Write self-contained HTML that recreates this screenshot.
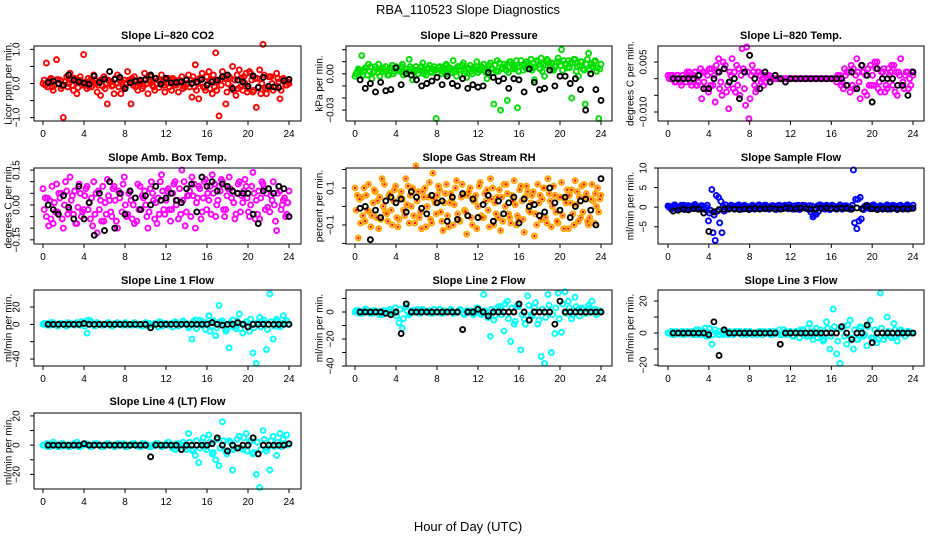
<!DOCTYPE html>
<html><head><meta charset="utf-8"><style>
html,body{margin:0;padding:0;background:#fff;}
svg{display:block;font-family:"Liberation Sans",Arial,sans-serif;}
</style></head><body>
<svg id="chart" width="936" height="540" viewBox="0 0 936 540" xmlns="http://www.w3.org/2000/svg">
<text x="468" y="14" text-anchor="middle" font-size="13">RBA_110523  Slope Diagnostics</text>
<text x="468" y="531" text-anchor="middle" font-size="13">Hour of Day (UTC)</text>
</svg>
<script>
const xTicks=[0,4,8,12,16,20,24];
// CO2
const co2A=[0.0,0.6,0.1,-0.2,0.7,0.1,-1.0,0.2,0.3,-0.2,-0.3,0.2,0.85,-0.15,0.1,0.25,-0.25,-0.35,0.2,-0.6,0.05,-0.3,0.25,-0.3,0.1,0.35,-0.6,0.2,-0.2,0.05,0.3,-0.3,0.2,-0.2,0.1,0.25,-0.25,0.15,-0.2,0.1,-0.25,0.2,-0.1,0.25,-0.4,0.55,-0.45,0.3,-0.2,0.35,-0.3,0.9,-0.95,0.35,-0.6,0.2,0.5,-0.35,0.4,-0.2,0.3,0.35,-0.25,-0.7,0.4,1.15,-0.3,0.2,-0.2,0.3,-0.45,0.15,-0.05];
const co2B=[0.1,-0.1,0.15,-0.05,0.12,-0.15,0.05,-0.1,0.1,0.15,-0.12,0.05,-0.05,0.15,-0.1,0.1,-0.05,0.12,-0.15,0.1,-0.08,0.15,-0.1,0.05,-0.12,0.1,0.15,-0.1,0.05,-0.15,0.1,0.12,-0.05,0.15,-0.12,0.05,0.1,-0.1,0.15,-0.05,0.1,-0.15,0.12,-0.1,0.2,-0.2,0.15,-0.1,0.2,-0.15,0.25,-0.2,0.1,0.2,-0.25,0.15,-0.2,0.25,-0.1,0.2,-0.25,0.3,-0.2,0.15,-0.3,0.25,-0.15,0.2,-0.1,0.15,-0.2,0.1,0.05];
const co2C=[-0.05,0.05,-0.1,0.1,0,-0.08,0.08,0,-0.05,0.05,0.1,-0.05,0,-0.1,0.05,0,0.08,-0.08,0,0.05,-0.05,0,0.1,-0.1,0,0.05,-0.05,0.08,0,-0.08,0,0.05,-0.1,0,0.08,-0.05,0,0.1,-0.05,0,0.05,-0.08,0,0.1,-0.1,0,0.12,-0.12,0,0.1,-0.1,0.05,-0.05,0.15,0,-0.1,0.1,-0.15,0.15,0,-0.15,0.1,0.15,-0.1,0,-0.15,0.2,0,-0.1,0.05,0.1,-0.05,0];
const co2K=[0.03,0.07,0,-0.05,0.25,0.1,0.05,0.02,-0.02,0.22,0.03,0.13,0.35,0.12,0.18,-0.15,0.02,0.07,0.1,0.12,0.25,0.15,-0.02,0.15,0.02,0.03,0.05,0.1,0,0.05,0.12,-0.05,0.05,0.1,0.2,0.25,-0.15,0.1,0.05,-0.08,0.22,-0.12,0.18,-0.08,-0.1,-0.12,0.08,0.12];
// Pressure
const prA=[-0.002,0.004,0.015,0.005,0.008,-0.004,0.006,0.008,0.002,0.006,-0.001,0.007,0.006,0.003,0.008,0.004,0.012,-0.005,0.006,0.003,0.009,-0.001,0.007,0.004,-0.037,0.006,0.002,0.008,0.005,0.011,-0.002,0.006,0.009,-0.003,0.007,0.005,0.01,0.003,0.008,-0.004,0.009,-0.025,0.011,-0.03,0.008,-0.022,0.01,0.006,-0.028,0.011,0.008,0.004,0.012,-0.005,0.01,0.013,-0.002,0.011,0.009,0.006,0.013,0.02,0.008,0.011,-0.02,0.012,-0.002,0.01,-0.025,0.017,0.006,0.011,-0.037];
const prB=[0,0.003,-0.001,0.005,0.002,0.001,0.004,-0.002,0.005,0.002,0.003,0,0.005,0.002,-0.001,0.004,0.006,0.001,0.003,0.005,0,0.004,0.002,0.006,0.001,0.003,0.005,0,0.004,0.002,0.006,0.003,0,0.005,0.002,0.004,0.001,0.006,0.003,0,0.005,0.007,0.002,0.004,0.006,0.001,0.008,0.004,0.002,0.007,0.005,0.009,0.003,0.006,0.008,0.002,0.007,0.009,0.004,0.006,0.01,0.003,0.008,0.005,0.009,0.002,0.007,0.004,0.008,0.003,0.006,0.002,0.004];
const prC=[0.002,0.001,0.003,-0.001,0.006,0.002,0.001,0.004,0.003,-0.001,0.005,0.002,0.003,0.006,0.001,0.002,0.004,0.003,0,0.006,0.002,0.005,0.001,0.003,0.005,0,0.007,0.003,0.001,0.004,0.003,0.007,0.002,0.004,0,0.006,0.003,0.005,0.001,0.007,0.004,0.002,0.009,0.005,0.003,0.01,0.004,0.011,0.006,0.003,0.01,0.007,0.005,0.011,0.004,0.008,0.012,0.006,0.003,0.01,0.007,0.011,0.005,0.009,0.012,0.006,0.01,0.003,0.012,0.008,0.01,0.005,0.008];
const prK=[-0.005,-0.012,-0.008,-0.015,-0.007,-0.014,-0.013,0.005,-0.009,0,-0.001,-0.005,-0.01,-0.008,-0.006,-0.003,-0.009,-0.002,-0.008,-0.01,-0.004,-0.012,-0.009,-0.011,-0.01,0.001,-0.003,-0.006,-0.004,-0.012,-0.004,-0.005,-0.015,0.004,-0.007,-0.013,-0.012,0.003,-0.01,-0.002,-0.002,-0.008,-0.004,-0.013,-0.03,0.0,-0.013,-0.022];
// Li-820 Temp
const ltA=[0.001,0,-0.001,0.001,-0.002,0,0.001,-0.002,0.002,-0.001,-0.006,0.002,-0.004,0.003,-0.007,0.006,-0.005,0.004,-0.009,0.006,-0.004,0.003,0.009,-0.008,-0.012,0.004,-0.004,0.002,0,-0.001,0.001,0,0,0,0,0,0,0,0,0,0,0,0,0,0,0,0,0,0,0,-0.001,0.001,-0.003,0.002,-0.004,0.003,0.006,-0.006,0.002,-0.005,0.004,-0.002,0.005,-0.004,0.003,-0.003,0.002,0.004,-0.005,0.006,-0.003,0.002,-0.002];
const ltB=[0,0.001,-0.001,0,0.001,-0.001,0.002,0,-0.002,0.001,0.002,-0.003,0.003,-0.002,0.004,-0.003,0.005,-0.004,0.002,-0.003,0.004,-0.005,0.003,0.0095,-0.006,0.002,-0.003,0.001,-0.002,0.001,0,0,0,0,0,0,0,0,0,0,0,0,0,0,0,0,0,0,0,0,0.001,-0.002,0.003,-0.002,0.004,-0.003,0.002,0.004,-0.004,0.003,-0.002,0.005,-0.003,0.002,-0.004,0.003,0.004,-0.004,0.002,-0.002,0.001,-0.003,0.002];
const ltC=[0.001,0,0.001,-0.001,0,0.002,-0.001,0.001,-0.002,0.003,-0.001,0.001,-0.002,0.001,0.002,-0.001,0.003,-0.002,0.001,0.002,-0.002,0.001,-0.003,0.002,0.001,-0.002,0.002,-0.001,0.001,0,0,0,0,0,0,0,0,0,0,0,0,0,0,0,0,0,0,0,0,0,0,-0.001,0.001,0.002,-0.002,0.001,-0.001,0.002,0.001,-0.002,0.001,0.003,-0.001,0.002,-0.002,0.001,-0.002,0.002,0.001,-0.001,0.002,0,0.001];
const ltK=[0,0,0,0,0,0.001,-0.003,-0.003,0,0.002,0.003,-0.001,0,-0.006,0.002,0.007,0,-0.003,0.002,-0.001,0.001,0,-0.001,0,0,0,0,0,0,0,0,0,0,0,-0.002,0.002,-0.003,0.004,0.001,-0.007,0.003,0,0,0,-0.002,-0.002,-0.005,0.002];
// Amb box temp
const abA=[0.07,-0.05,0.02,-0.08,0.09,0.03,-0.1,0.06,0.12,-0.04,-0.08,0.05,-0.02,0.08,-0.06,0.1,-0.12,0.02,-0.07,0.11,-0.03,0.08,-0.1,0.05,0.12,-0.04,0.02,-0.08,0.09,-0.02,0.06,-0.1,0.1,-0.06,0.03,0.13,-0.04,0.07,-0.02,0.1,-0.06,0.15,-0.09,0.04,0.12,-0.1,0.08,-0.03,0.11,0.02,0.13,-0.05,0.08,0.1,-0.02,0.12,0.06,-0.04,0.1,0.01,0.08,-0.05,0.14,0.02,-0.06,0.09,0.05,-0.03,0.1,-0.11,0.06,0.02,-0.04];
const abB=[-0.02,0.03,-0.06,0.01,-0.03,0.05,0.0,-0.04,0.02,0.06,-0.01,-0.05,0.04,-0.02,0.03,-0.04,0.06,-0.07,0.01,0.04,-0.05,0.02,0.06,-0.03,0.0,0.05,-0.06,0.03,-0.02,0.04,0.0,-0.03,0.05,0.01,-0.04,0.06,0.02,-0.02,0.05,0.0,0.07,0.02,-0.03,0.06,0.04,0.01,0.07,0.03,-0.02,0.08,0.05,0.0,0.06,-0.02,0.04,0.07,0.01,0.05,-0.03,0.06,0.03,0.0,0.05,-0.04,0.03,0.07,-0.01,0.04,0.0,0.05,-0.02,0.03,0.01];
const abC=[0.03,-0.09,0.08,-0.03,0.05,-0.06,0.1,-0.02,0.04,-0.08,0.09,-0.03,0.07,0.01,-0.09,0.05,-0.02,0.08,-0.04,0.02,0.07,-0.07,0.03,0.09,-0.05,0.06,0.0,-0.07,0.08,0.03,-0.05,0.07,0.02,-0.08,0.1,-0.02,0.06,-0.07,0.09,0.02,-0.04,0.1,0.04,-0.05,0.09,0.03,-0.06,0.1,0.05,-0.04,0.09,0.02,0.11,-0.05,0.07,0.03,-0.06,0.09,0.04,0.11,-0.03,0.08,-0.06,0.06,0.1,-0.02,0.07,0.02,-0.07,0.08,0.0,-0.05,0.06];
const abK=[0,-0.02,-0.04,0.04,-0.01,-0.06,0.08,-0.06,0.01,-0.13,0.05,-0.11,0.1,-0.1,0.05,-0.04,0.06,0.03,-0.02,0.04,0,0.08,0.02,0.03,0.05,0.02,0.01,0.07,0.09,-0.03,0.12,0.08,0.1,0.06,0.09,0.08,0.06,0.05,0.05,0.05,-0.04,-0.08,0.06,0.07,0.05,0.08,0.07,-0.05];
// Gas stream RH
const rhA=[0.1,-0.17,0.05,-0.08,0.12,-0.05,0.08,-0.12,0.15,-0.03,0.06,-0.1,0.11,-0.07,0.04,0.15,-0.09,0.1,0.22,-0.06,0.08,-0.11,0.13,0.18,-0.04,0.09,-0.13,0.12,0.02,-0.1,0.14,-0.08,0.06,-0.15,0.1,0.03,-0.12,0.13,-0.06,0.09,0.15,-0.1,0.05,-0.13,0.12,0.07,-0.09,0.14,-0.05,0.11,-0.14,0.08,0.02,-0.16,0.12,-0.07,0.1,0.15,-0.11,0.06,-0.09,0.13,0.04,-0.12,0.09,0.14,-0.08,0.11,0.05,-0.1,0.12,0.07,-0.03];
const rhB=[-0.02,0.04,-0.05,0.06,-0.03,0.02,-0.06,0.05,0.0,-0.04,0.07,0.03,-0.06,0.05,-0.02,0.01,0.06,-0.05,0.03,-0.03,0.05,0.0,-0.07,0.04,0.06,-0.03,0.02,-0.05,0.07,0.01,-0.04,0.05,-0.02,0.06,-0.06,0.03,0.0,-0.05,0.07,-0.02,0.04,0.02,-0.06,0.05,0.0,-0.04,0.06,0.01,-0.07,0.03,0.05,-0.02,0.06,-0.04,0.02,0.04,-0.06,0.07,0.0,-0.03,0.05,-0.05,0.02,0.06,-0.04,0.01,0.05,-0.03,0.07,-0.06,0.03,0.0,0.04];
const rhC=[0.06,-0.09,0.1,-0.02,-0.11,0.09,0.03,-0.07,0.12,-0.08,-0.02,0.09,-0.11,0.08,-0.05,0.11,0.0,-0.09,0.08,-0.12,0.1,0.05,-0.09,0.02,0.11,-0.08,0.07,-0.11,0.04,0.1,-0.07,0.12,-0.03,0.08,-0.1,0.06,0.11,-0.06,0.03,-0.11,0.1,-0.04,0.09,-0.08,0.12,-0.06,0.03,-0.1,0.09,-0.07,0.11,-0.03,0.08,-0.1,0.06,0.1,-0.09,0.03,0.11,-0.08,0.05,-0.12,0.09,0.02,-0.1,0.08,-0.06,0.12,-0.08,0.04,-0.09,0.1,0.06];
const rhK=[-0.01,0.0,-0.18,-0.02,-0.06,0.03,0.05,0.02,0.04,-0.03,0.08,0.05,-0.01,-0.04,0.06,0.02,0.03,-0.08,0.05,-0.07,0.07,-0.05,0.04,-0.06,0.01,0.06,-0.08,0.03,-0.04,0.02,0.05,-0.09,0.04,0,0.01,-0.05,-0.03,0.1,0.02,-0.02,0.05,-0.06,0,0.03,0.04,-0.02,-0.1,0.15];
// Sample flow
const sfA=[0.3,-0.5,0.6,-0.4,0.5,-0.6,0.4,-0.3,0.7,-0.5,0.4,-0.6,-3.5,4.5,-8.5,2.5,-6.5,0.6,-0.5,0.4,-0.4,0.6,-0.5,0.3,-0.6,0.5,-0.4,0.6,-0.3,0.5,-0.5,0.4,-0.6,0.5,-0.4,0.3,0.6,-0.5,0.4,-0.6,0.5,-0.3,0.4,-2.5,-1.8,0.6,-0.4,0.5,-0.6,0.4,-0.5,0.6,-0.4,0.3,-0.5,9.5,-5.5,2.5,-0.6,0.5,-0.4,0.6,-0.5,0.4,-0.3,0.6,-0.5,0.4,-0.6,0.5,-0.4,0.6,-0.3];
const sfB=[0,0.2,-0.2,0.1,-0.1,0.3,-0.3,0.2,0,-0.2,0.3,-0.1,-1.5,-6.5,3,-4,0.2,-0.2,0.1,-0.3,0.3,0,-0.2,0.2,-0.1,0.3,0,-0.3,0.2,0.1,-0.2,0.3,0,-0.1,0.2,-0.3,0.1,0.3,-0.2,0,0.2,-0.3,-1.2,-2,0.3,-0.1,0.2,0,-0.3,0.2,0.1,-0.2,0.3,0,-0.2,-4,2,-3,0.2,-0.1,0.3,-0.2,0,0.2,-0.3,0.1,0.2,-0.1,0.3,-0.2,0,0.2,-0.1];
const sfC=[-0.2,0.4,-0.5,0.2,0.5,-0.3,0.1,0.5,-0.4,0.3,-0.3,0.5,-0.8,-2,-1,1.5,-1,-0.4,0.5,-0.2,0.4,-0.3,0.5,-0.4,0.2,-0.5,0.4,-0.2,0.5,-0.4,0.3,-0.5,0.4,-0.2,0.5,-0.4,0.2,-0.5,0.5,-0.3,0.4,-0.5,0.3,-1.5,-1,0.4,-0.5,0.3,0.5,-0.4,0.2,-0.5,0.4,-0.3,0.5,2,-3.5,-0.5,0.4,-0.3,0.5,-0.4,0.2,-0.5,0.4,-0.2,0.5,-0.4,0.3,-0.5,0.4,-0.3,0.5];
const sfK=[-1,-0.8,-0.5,-0.7,-0.4,-0.5,-1.5,-6.2,-1.2,-0.6,-0.5,-0.4,-0.5,-0.6,-0.4,-0.5,-0.3,-0.5,-0.4,-0.3,-0.4,-0.5,-0.2,-0.3,-0.4,-0.2,-0.3,-0.5,-0.4,-0.3,-0.2,-0.3,-0.4,-0.2,-0.3,-0.5,-0.2,-0.4,0.3,-0.4,-0.6,-0.4,-0.5,-0.3,-0.5,-0.4,-0.5,-0.3];
// Line 1
const l1A=[0,1,-1,2,-1,1,0,-2,1,0,2,-1,3,-10,4,-1,2,0,-1,1,0,-1,2,0,1,-1,0,2,-1,0,1,-2,0,1,-3,2,0,-1,1,3,-2,0,2,-4,-17,5,-1,3,-6,10,-2,-13,22,4,-8,-27,5,-5,12,-10,3,-8,-33,-45,8,2,-29,35,-17,6,-3,10,4];
const l1B=[1,-1,2,0,-2,1,-1,2,0,-1,1,3,-2,5,2,-2,1,-1,0,2,-2,1,0,-1,2,0,-1,1,0,-2,2,1,-1,0,3,-2,1,0,-3,2,-1,4,0,-2,3,-5,5,-1,2,-8,4,-4,3,1,-6,2,-3,4,-5,1,-2,6,-4,2,-3,5,-6,3,-2,4,-1,2,0];
const l1K=[0,0,0,0,0,0,0,1,0,0,0,0,0,0,0,0,0,0,0,0,-4,0,0,0,0,0,0,0,0,0,0,0,2,0,-1,0,0,2,0,-3,0,0,0,0,0,0,0,0];
// Line 2
const l2A=[0,1,-1,2,0,-1,1,0,-2,1,0,-1,3,-8,-12,4,-2,1,0,-1,2,0,1,-1,0,2,-1,0,1,-1,0,2,-1,1,0,-2,3,-1,13,-2,-18,-6,0,4,-14,8,-22,-9,5,-28,-5,12,-2,3,-9,-33,-38,13,-30,-16,14,-15,15,8,-5,11,2,3,-1,5,8,2,0];
const l2B=[1,-1,0,2,-1,1,0,-2,1,-1,2,0,-3,2,-5,1,-1,0,2,-1,1,0,-1,2,0,-1,1,0,2,-1,0,1,-2,0,1,-1,3,-2,1,-4,2,-3,4,-2,6,-5,3,-7,4,-2,-9,5,-3,7,-6,2,-4,5,-2,3,-5,6,-1,3,-2,4,-3,2,-1,3,0,-2,1];
const l2K=[0,0,0,0,0,-1,-2,0,-16,6,0,0,0,0,0,0,0,0,0,0,-13,0,0,2,0,-3,0,0,0,0,0,6,0,-6,0,0,0,0,-9,8,0,0,0,0,0,0,0,0];
// Line 3
const l3A=[0,1,-1,0,1,-1,0,1,-1,2,-1,3,-2,-7,2,-1,0,1,-1,0,1,0,-1,1,0,-1,0,1,-1,0,1,-1,0,2,-1,1,0,-2,1,-3,2,-2,6,-4,3,-1,-5,7,-10,15,-13,-19,4,-7,8,-10,-4,4,-2,-8,8,-3,-6,25,-4,10,-2,6,-5,2,0,1,0];
const l3B=[0,-1,1,0,-1,1,0,-1,2,-1,1,-2,3,-1,0,1,-1,0,1,-1,0,1,0,-1,1,0,-1,0,1,0,-1,1,0,-1,2,-1,1,-2,0,2,-1,3,-2,1,-3,2,-4,3,-2,4,-5,3,-2,5,-3,2,-4,3,-1,4,-3,2,-4,3,-2,1,-3,2,-1,1,-2,1,0];
const l3K=[0,0,0,0,0,0,0,-1,7,-14,2,0,0,0,0,0,0,0,0,0,0,-7,0,0,0,0,0,0,0,0,0,0,0,4,0,-4,0,0,5,-6,0,0,0,0,0,0,0,0];
// Line 4
const l4A=[0,1,-1,2,0,-1,1,0,-1,1,2,-1,0,1,-1,0,1,0,-1,1,0,-1,1,0,1,-1,0,1,0,-1,1,0,-1,0,1,-1,0,2,-1,-3,1,0,-1,8,-3,-7,-12,2,-1,7,-6,-10,-14,16,-4,3,-17,-2,6,-3,8,2,-6,-20,-29,10,-4,-17,6,-7,8,4,7];
const l4B=[0,-1,1,0,-1,1,0,-1,0,1,-1,0,1,0,-1,1,0,-1,0,1,0,-1,1,0,-1,0,1,0,-1,1,0,-1,0,1,0,-1,1,0,-2,1,-1,2,-3,2,-4,3,-2,5,-3,2,-5,4,-2,3,-6,2,-3,4,-2,5,-4,3,-5,2,-3,4,-2,3,-1,2,-1,1,0];
const l4K=[0,0,0,0,0,0,0,1,0,0,0,0,0,0,0,0,0,0,0,0,-8,0,0,0,0,0,-3,0,0,0,0,0,1,5,0,-4,0,-2,0,0,5,-6,0,0,0,0,0,1];

const cols=[[34,301,43,289,18,8],[346,612,355,601,16,319],[658,924,668,913,15,630]];
const rows=[[46,121,35],[168,244,157],[290,366,280],[413,489,401]];
const panels=[
 {name:'li820-co2',title:'Slope Li\u2013820 CO2',yl:'Licor ppm per min.',r:0,c:0,ymin:-1.1,ymax:1.1,ticks:[-1,-0.5,0,0.5,1],labels:{'-1':'\u22121.0','0':'0.0','1':'1.0'},col:'#ff0000',S:[co2A,co2B,co2C],K:co2K},
 {name:'li820-pressure',title:'Slope Li\u2013820 Pressure',yl:'kPa per min.',r:0,c:1,ymin:-0.039,ymax:0.023,ticks:[-0.03,-0.02,-0.01,0,0.01,0.02],labels:{'-0.03':'\u22120.03','0':'0.00'},col:'#00e000',S:[prA,prB,prC],K:prK},
 {name:'li820-temp',title:'Slope Li\u2013820 Temp.',yl:'degrees C per min.',r:0,c:2,ymin:-0.0127,ymax:0.0098,ticks:[-0.01,-0.005,0,0.005],labels:{'-0.01':'\u22120.010','0.005':'0.005'},col:'#ff00ff',S:[ltA,ltB,ltC],K:ltK},
 {name:'amb-box-temp',title:'Slope Amb. Box Temp.',yl:'degrees C per min.',r:1,c:0,ymin:-0.168,ymax:0.159,ticks:[-0.15,-0.1,-0.05,0,0.05,0.1,0.15],labels:{'-0.15':'\u22120.15','0':'0.00','0.15':'0.15'},col:'#ff00ff',S:[abA,abB,abC],K:abK},
 {name:'gas-stream-rh',title:'Slope Gas Stream RH',yl:'percent per min.',r:1,c:1,ymin:-0.203,ymax:0.208,ticks:[-0.2,-0.1,0,0.1,0.2],labels:{'-0.1':'\u22120.1','0.1':'0.1'},col:'#ffa500',inner:'#ff0000',S:[rhA,rhB,rhC],K:rhK},
 {name:'sample-flow',title:'Slope Sample Flow',yl:'ml/min per min.',r:1,c:2,ymin:-9.4,ymax:10,ticks:[-5,0,5,10],labels:{'-5':'\u22125','0':'0','5':'5','10':'10'},col:'#0000ff',S:[sfA,sfB,sfC],K:sfK},
 {name:'line1-flow',title:'Slope Line 1 Flow',yl:'ml/min per min.',r:2,c:0,ymin:-48,ymax:39.6,ticks:[-40,-20,0,20],labels:{'-40':'\u221240','0':'0','20':'20'},col:'#00ffff',S:[l1A,l1B],K:l1K},
 {name:'line2-flow',title:'Slope Line 2 Flow',yl:'ml/min per min.',r:2,c:1,ymin:-40,ymax:16.3,ticks:[-40,-30,-20,-10,0,10],labels:{'-40':'\u221240','-20':'\u221220','0':'0'},col:'#00ffff',S:[l2A,l2B],K:l2K},
 {name:'line3-flow',title:'Slope Line 3 Flow',yl:'ml/min per min.',r:2,c:2,ymin:-20.6,ymax:26.9,ticks:[-20,-10,0,10,20],labels:{'-20':'\u221220','0':'0','20':'20'},col:'#00ffff',S:[l3A,l3B],K:l3K},
 {name:'line4-flow',title:'Slope Line 4 (LT) Flow',yl:'ml/min per min.',r:3,c:0,ymin:-30,ymax:22,ticks:[-20,-10,0,10,20],labels:{'-20':'\u221220','0':'0','20':'20'},col:'#00ffff',S:[l4A,l4B],K:l4K}
];
const NS='http://www.w3.org/2000/svg';
const svg=document.getElementById('chart');
function mk(tag,attrs,parent){const e=document.createElementNS(NS,tag);for(const k in attrs)e.setAttribute(k,attrs[k]);(parent||svg).appendChild(e);return e;}
panels.forEach(p=>{
 const [L,R,x0,x24,lx,tx]=cols[p.c];const [T,B,ty]=rows[p.r];
 const g=mk('g',{});
 
 
 const xs=h=>x0+(x24-x0)*h/24;
 const ys=v=>B-(v-p.ymin)/(p.ymax-p.ymin)*(B-T);
 const t=mk('text',{x:(L+R)/2,y:ty+4,'text-anchor':'middle','font-size':'11','font-weight':'bold'},g);
 t.textContent=p.title;
 
 
 const yt=mk('text',{x:tx,y:(T+B)/2,'text-anchor':'middle','font-size':'10',transform:`rotate(-90 ${tx} ${(T+B)/2})`,dy:'3.5'},g);
 yt.textContent=p.yl;
 
 
 p.S.forEach((arr,si)=>{arr.forEach((v,i)=>{const x=xs((i+si/3)*24/(arr.length-1+2/3));
   const pt=mk('circle',{cx:x,cy:ys(v),r:2.5,fill:'none',stroke:p.col,'stroke-width':1.9},g);
   
   
   if(p.inner){const d=mk('circle',{cx:x,cy:ys(v),r:1.2,fill:p.inner},g);
     
     }
 });});
 p.K.forEach((v,i)=>{const x=xs(0.5+i*23.5/(p.K.length-1));
   const pt=mk('circle',{cx:x,cy:ys(v),r:2.5,fill:'none',stroke:'#000','stroke-width':1.9},g);
   
   });
 const box=mk('rect',{x:L,y:T,width:R-L,height:B-T,fill:'none',stroke:'#000','stroke-width':1},g);
 
 
 xTicks.forEach(h=>{const x=xs(h);mk('line',{x1:x,x2:x,y1:B,y2:B+4,stroke:'#000'},g);
   const lb=mk('text',{x:x,y:B+16,'text-anchor':'middle','font-size':'10'},g);lb.textContent=h;
   
   });
 p.ticks.forEach(v=>{const y=ys(v);mk('line',{x1:L-4,x2:L,y1:y,y2:y,stroke:'#000'},g);
   const key=String(v);if(p.labels[key]!==undefined){
   const lx2=L-lx;const lb=mk('text',{x:lx2,y:y,'text-anchor':'middle','font-size':'10',dy:'3.5',transform:`rotate(-90 ${lx2} ${y})`},g);
   lb.textContent=p.labels[key];
   
   }});
});
</script>
</body></html>
